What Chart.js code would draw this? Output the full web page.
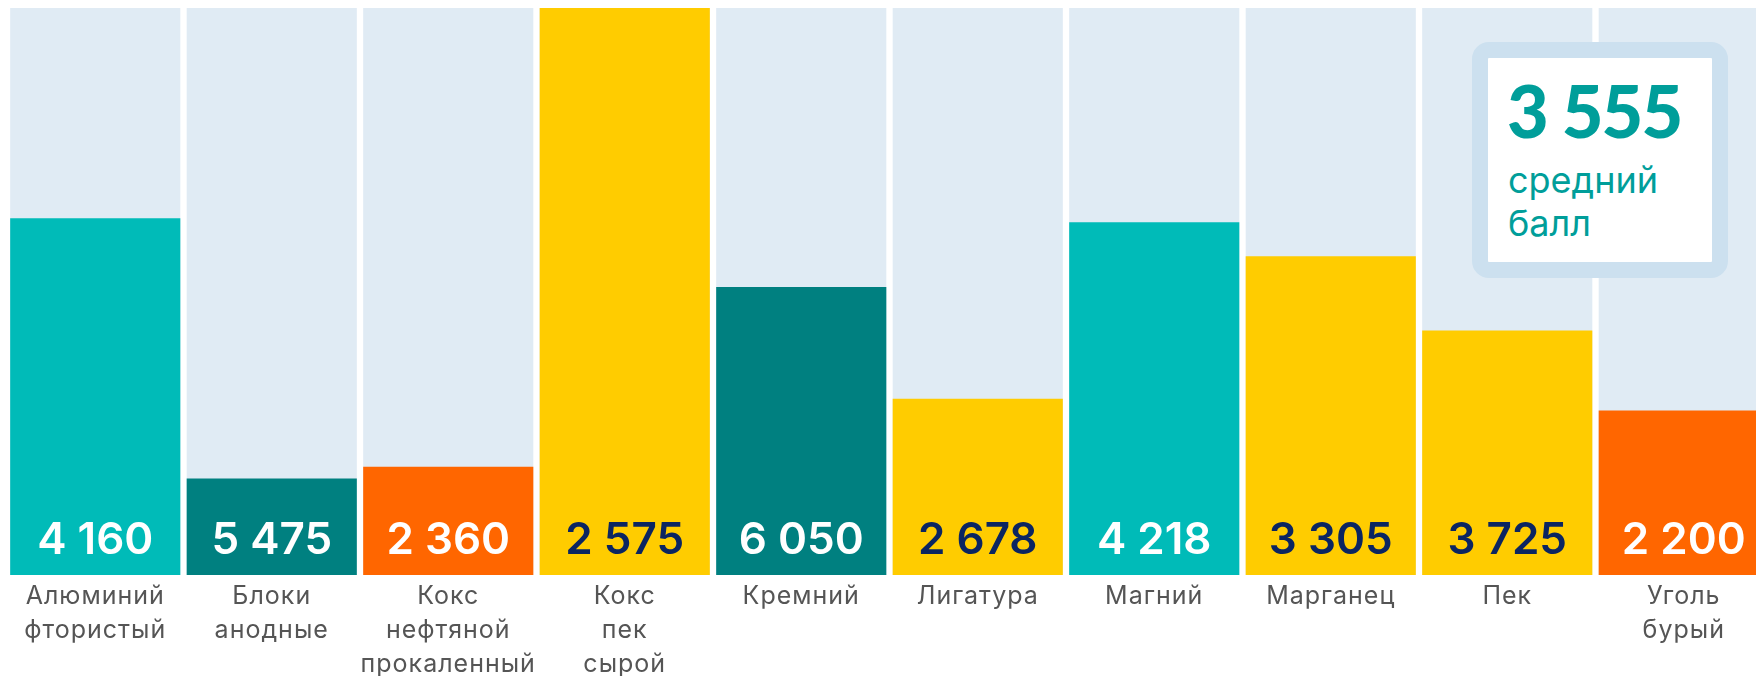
<!DOCTYPE html>
<html>
<head>
<meta charset="utf-8">
<script src="https://cdn.jsdelivr.net/npm/chart.js@4/dist/chart.umd.min.js"></script>
<style>
html,body{margin:0;padding:0;background:#fff;overflow:hidden;width:1756px;height:676px;}
#wrap{position:absolute;left:0;top:0;width:1772px;height:685px;}
#avg{position:absolute;left:1472px;top:42px;width:256px;height:236px;box-sizing:border-box;border:16px solid #CCE0EF;border-radius:17px;background:#fff;}
#avgNum{position:absolute;left:19px;top:16px;font-family:Lato,sans-serif;font-weight:900;font-size:72px;line-height:72px;letter-spacing:-2px;color:#009E9A;white-space:nowrap;}
#avgTxt{position:absolute;left:20px;top:101px;font-family:Inter,sans-serif;font-weight:400;font-size:36px;line-height:43px;color:#009E9A;white-space:nowrap;}
</style>
</head>
<body>
<div id="wrap"><canvas id="c"></canvas></div>
<div id="avg"><div id="avgNum"></div><div id="avgTxt">средний<br>балл</div></div>
<script>
// ---- data ----
const categories = [
  ["Алюминий", "фтористый"],
  ["Блоки", "анодные"],
  ["Кокс", "нефтяной", "прокаленный"],
  ["Кокс", "пек", "сырой"],
  ["Кремний"],
  ["Лигатура"],
  ["Магний"],
  ["Марганец"],
  ["Пек"],
  ["Уголь", "бурый"]
];
const barHeights = [62.9, 17.0, 19.1, 100, 50.8, 31.1, 62.2, 56.2, 43.1, 29.0];
const valueLabels = [4160, 5475, 2360, 2575, 6050, 2678, 4218, 3305, 3725, 2200];
const averageScore = 3555;
const scaleMax = 100;

// ---- styles ----
const TEAL = '#00BBB8', DARK = '#008080', ORANGE = '#FF6600', YELLOW = '#FFCC00';
const barColors = [TEAL, DARK, ORANGE, YELLOW, DARK, YELLOW, TEAL, YELLOW, YELLOW, ORANGE];
const labelColors = barColors.map(c => c === YELLOW ? '#0B2561' : '#FFFFFF');

const fmt = v => String(v).replace(/\B(?=(\d{3})+(?!\d))/g, ' ');
document.getElementById('avgNum').textContent = fmt(averageScore);

const valuePlugin = {
  id: 'valueLabels',
  beforeDraw(chart) {
    chart.ctx.letterSpacing = '1px';
  },
  afterDatasetsDraw(chart) {
    const ctx = chart.ctx;
    const meta = chart.getDatasetMeta(0);
    const base = chart.scales.y.getPixelForValue(0);
    ctx.save();
    ctx.letterSpacing = '0px';
    ctx.font = '600 44px Inter';
    ctx.textAlign = 'center';
    ctx.textBaseline = 'alphabetic';
    meta.data.forEach((bar, i) => {
      ctx.fillStyle = labelColors[i];
      ctx.fillText(fmt(valueLabels[i]), bar.x, base - 21);
    });
    ctx.restore();
  },
  afterDraw(chart) {
    chart.ctx.letterSpacing = '0px';
  }
};

new Chart(document.getElementById('c'), {
  type: 'bar',
  data: {
    labels: categories,
    datasets: [
      {data: barHeights, backgroundColor: barColors, order: 0,
       barPercentage: 0.964, categoryPercentage: 1},
      {data: categories.map(() => scaleMax), backgroundColor: '#E0EBF4', order: 1,
       barPercentage: 0.964, categoryPercentage: 1}
    ]
  },
  options: {
    responsive: true,
    maintainAspectRatio: false,
    animation: false,
    layout: {padding: {left: 7, top: 8, right: 0, bottom: 0}},
    plugins: {legend: {display: false}, tooltip: {enabled: false}},
    scales: {
      x: {
        stacked: true,
        grid: {display: false, drawTicks: false},
        border: {display: false},
        ticks: {
          autoSkip: false, maxRotation: 0, minRotation: 0, padding: 4,
          color: '#555555',
          font: {family: 'Inter', size: 25, lineHeight: 1.36}
        }
      },
      y: {
        stacked: false, display: false, min: 0, max: scaleMax
      }
    }
  },
  plugins: [valuePlugin]
});
</script>
</body>
</html>
